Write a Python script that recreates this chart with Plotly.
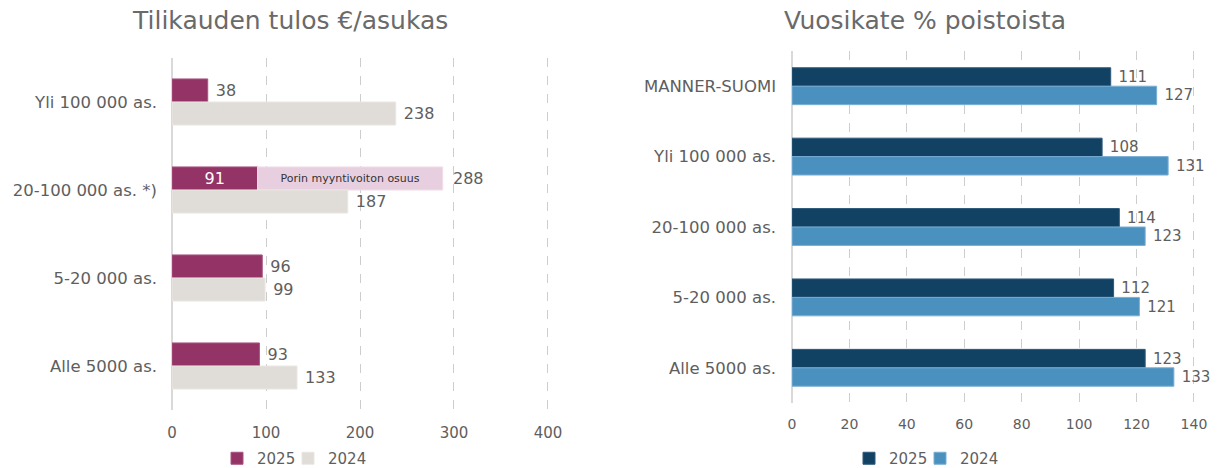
import plotly.graph_objects as go

# Left chart data
left_cats = ["Yli 100 000 as.", "20-100 000 as. *)", "5-20 000 as.", "Alle 5000 as."]
left_2025 = [38, 91, 96, 93]
left_2024 = [238, 187, 99, 133]
pori_total = [None, 288, None, None]
pori_label = "Porin myyntivoiton osuus"
left_ticks = [0, 100, 200, 300, 400]

# Right chart data
right_cats = ["MANNER-SUOMI", "Yli 100 000 as.", "20-100 000 as.", "5-20 000 as.", "Alle 5000 as."]
right_2025 = [111, 108, 114, 112, 123]
right_2024 = [127, 131, 123, 121, 133]
right_ticks = [0, 20, 40, 60, 80, 100, 120, 140]

TXT = "#5E5E5E"
TITLE = "#6A6A6A"
FONT = "DejaVu Sans"
W = 0.262
FW, FH = 1217, 468  # body margin is removed by post_script below


def px(x):
    return x / FW


def py(y):
    return 1 - y / FH


fig = go.Figure()

# ---- left chart ----
pos_2025 = ["inside" if v is not None else "outside" for v in pori_total]
fig.add_trace(go.Bar(
    y=left_cats, x=left_2025, orientation="h", name="2025",
    marker=dict(color="#943366", line=dict(color="#A85282", width=1)),
    width=W, offset=-W,
    text=[("" if p == "inside" else "\u00a0") + str(v) for v, p in zip(left_2025, pos_2025)],
    textposition=pos_2025, textangle=0, constraintext="none",
    insidetextanchor="middle",
    insidetextfont=dict(color="white", size=16, family=FONT),
    outsidetextfont=dict(color=TXT, size=16, family=FONT),
    cliponaxis=False, legendwidth=26,
    xaxis="x", yaxis="y", legend="legend",
))
pori_base = [left_2025[i] if pori_total[i] is not None else None for i in range(len(left_cats))]
pori_len = [pori_total[i] - left_2025[i] if pori_total[i] is not None else None for i in range(len(left_cats))]
fig.add_trace(go.Bar(
    y=left_cats, x=pori_len, base=pori_base, orientation="h",
    marker=dict(color="#E8CFDF", line=dict(color="#F0DDE8", width=1)),
    width=W, offset=-W, showlegend=False,
    text=[pori_label if v is not None else "" for v in pori_total],
    textposition="inside", insidetextanchor="middle", textangle=0, constraintext="none",
    insidetextfont=dict(color="#333333", size=11, family=FONT),
    xaxis="x", yaxis="y",
))
fig.add_trace(go.Bar(
    y=left_cats, x=left_2024, orientation="h", name="2024",
    marker=dict(color="#E0DCD8", line=dict(color="#EAE7E4", width=1)),
    width=W, offset=0,
    text=["\u00a0" + str(v) for v in left_2024], textposition="outside", textangle=0,
    outsidetextfont=dict(color=TXT, size=16, family=FONT),
    cliponaxis=False,
    xaxis="x", yaxis="y", legend="legend",
))

# ---- right chart ----
fig.add_trace(go.Bar(
    y=right_cats, x=right_2025, orientation="h", name="2025",
    marker=dict(color="#124263", line=dict(color="#2F5A7A", width=1)),
    width=W, offset=-W,
    text=["\u00a0" + str(v) for v in right_2025], textposition="outside", textangle=0,
    outsidetextfont=dict(color=TXT, size=15, family=FONT),
    cliponaxis=False, legendwidth=26,
    xaxis="x2", yaxis="y2", legend="legend2",
))
fig.add_trace(go.Bar(
    y=right_cats, x=right_2024, orientation="h", name="2024",
    marker=dict(color="#4B91BF", line=dict(color="#7AAFD4", width=1)),
    width=W, offset=0,
    text=["\u00a0" + str(v) for v in right_2024], textposition="outside", textangle=0,
    outsidetextfont=dict(color=TXT, size=15, family=FONT),
    cliponaxis=False,
    xaxis="x2", yaxis="y2", legend="legend2",
))

annotations = []
for i, v in enumerate(pori_total):
    if v is not None:
        annotations.append(dict(
            x=v, y=left_cats[i], xref="x", yref="y", text=str(v),
            showarrow=False, xanchor="left", yshift=W / 2 * 88, xshift=8,
            font=dict(color=TXT, size=16, family=FONT),
        ))
annotations.append(dict(x=px(290), y=py(21), xref="paper", yref="paper",
                        text="Tilikauden tulos €/asukas", showarrow=False,
                        xanchor="center", yanchor="middle",
                        font=dict(color=TITLE, size=25, family=FONT)))
annotations.append(dict(x=px(925), y=py(21), xref="paper", yref="paper",
                        text="Vuosikate % poistoista", showarrow=False,
                        xanchor="center", yanchor="middle",
                        font=dict(color=TITLE, size=25, family=FONT)))

axis_common = dict(
    showgrid=True, gridcolor="#CDCDCD", griddash="dash", gridwidth=1,
    zeroline=True, zerolinecolor="#D9D9D9", zerolinewidth=1.5,
    showline=False, ticks="",
    automargin=False, fixedrange=True,
)

fig.update_layout(
    width=FW, height=FH,
    margin=dict(l=0, r=0, t=0, b=0, autoexpand=False),
    paper_bgcolor="white", plot_bgcolor="white",
    barmode="overlay",
    font=dict(family=FONT, color=TXT),
    xaxis=dict(domain=[px(172), px(549.4)], range=[0, 401.5], tickvals=left_ticks,
               anchor="y", ticklabelstandoff=12,
               tickfont=dict(color=TXT, size=15, family=FONT), **axis_common),
    yaxis=dict(domain=[py(410), py(58)], autorange="reversed",
               anchor="x", showgrid=False, ticks="", ticklabelstandoff=14,
               tickfont=dict(color=TXT, size=16.5, family=FONT), automargin=False,
               fixedrange=True),
    xaxis2=dict(domain=[px(792), px(1195.7)], range=[0, 140.6], tickvals=right_ticks,
                anchor="y2", ticklabelstandoff=11,
                tickfont=dict(color=TXT, size=14, family=FONT), **axis_common),
    yaxis2=dict(domain=[py(403), py(51)], autorange="reversed",
                anchor="x2", showgrid=False, ticks="", ticklabelstandoff=15,
                tickfont=dict(color=TXT, size=16.5, family=FONT), automargin=False,
                fixedrange=True),
    legend=dict(orientation="h", x=px(217), xanchor="left", y=py(442),
                yanchor="top", font=dict(color=TXT, size=15, family=FONT),
                itemwidth=30, bgcolor="rgba(0,0,0,0)"),
    legend2=dict(orientation="h", x=px(849), xanchor="left", y=py(442),
                 yanchor="top", font=dict(color=TXT, size=15, family=FONT),
                 itemwidth=30, bgcolor="rgba(0,0,0,0)"),
    annotations=annotations,
    showlegend=True,
)

fig.write_html(
    "out.html",
    config={"displayModeBar": False},
    post_script="document.body.style.margin='0px'; document.body.style.overflow='hidden';",
)
